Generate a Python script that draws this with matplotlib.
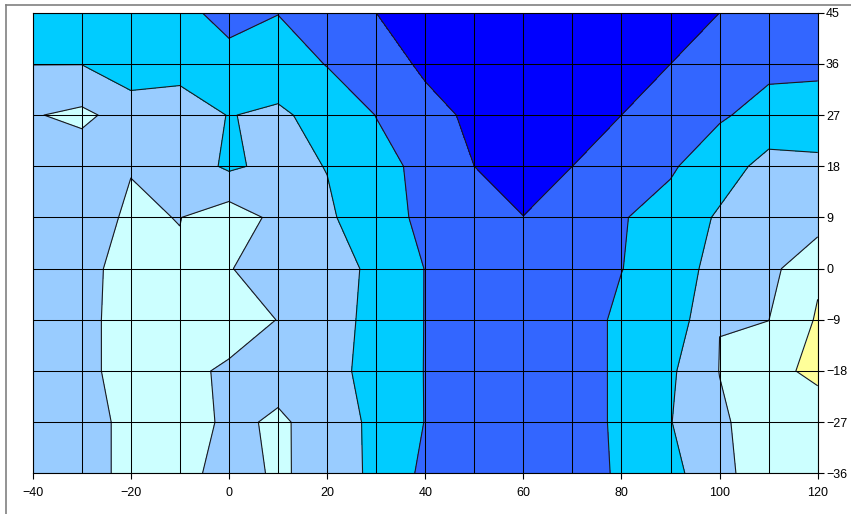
import numpy as np
import matplotlib
matplotlib.use('Agg')
import matplotlib.pyplot as plt
from matplotlib.lines import Line2D

# grid of the surface: columns = x, rows = y (top row first)
x_vals = [-40, -30, -20, -10, 0, 10, 20, 30, 40, 50, 60, 70, 80, 90, 100, 110, 120]
y_vals = [45, 36, 27, 18, 9, 0, -9, -18, -27, -36]

z_45 = [3.6, 3.6, 3.6, 3.75, 4.3, 4.03, 4.4, 5.0, 5.5, 5.6, 5.7, 5.6, 5.5, 5.3, 5.0, 4.6, 4.5]
z_36 = [3.02, 3.02, 3.65, 3.22, 3.7, 3.35, 4.05, 4.72, 5.1, 5.5, 5.7, 5.5, 5.3, 5.0, 4.5, 4.2, 4.2]
z_27 = [2.06, 1.8, 2.4, 2.7, 3.02, 2.9, 3.22, 4.02, 4.81, 5.11, 5.6, 5.3, 5.0, 4.5, 4.1, 3.7, 3.6]
z_18 = [2.5, 2.55, 2.03, 2.4, 3.17, 2.7, 3.03, 3.66, 4.27, 5.0, 5.3, 5.0, 4.5, 4.1, 3.5, 2.65, 2.78]
z_9 = [2.5, 2.3, 1.9, 2.02, 1.47, 2.25, 2.85, 3.6, 4.2, 4.5, 4.99, 4.5, 4.05, 3.7, 2.86, 2.6, 2.52]
z_0 = [2.5, 2.3, 1.62, 1.9, 1.95, 2.5, 2.5, 3.25, 4.02, 4.5, 4.5, 4.5, 4.02, 3.5, 2.64, 2.3, 1.15]
z_m9 = [2.5, 2.3, 1.55, 1.45, 1.35, 2.03, 2.5, 3.35, 4.02, 4.5, 4.5, 4.5, 3.8, 3.63, 2.01, 2.01, 0.9]
z_m18 = [2.5, 2.3, 1.55, 1.66, 2.2, 2.2, 2.5, 3.5, 4.02, 4.5, 4.5, 4.5, 3.8, 3.15, 1.98, 1.5, 0.6]
z_m27 = [2.5, 2.3, 1.8, 1.7, 2.12, 1.92, 2.22, 3.33, 4.02, 4.5, 4.5, 4.5, 3.8, 3.03, 2.15, 1.5, 1.98]
z_m36 = [2.5, 2.3, 1.8, 1.7, 2.35, 1.88, 2.32, 3.26, 4.2, 4.5, 4.5, 4.5, 3.85, 3.33, 2.2, 1.6, 1.6]

levels = [0, 1, 2, 3, 4, 5, 6]
band_colors = ['#FFFF99', '#CCFFFF', '#99CCFF', '#00CCFF', '#3366FF', '#0000FF']

x_ticks = [-40, -20, 0, 20, 40, 60, 80, 100, 120]
y_ticks = [-36, -27, -18, -9, 0, 9, 18, 27, 36, 45]

Z = np.array([z_45, z_36, z_27, z_18, z_9, z_0, z_m9, z_m18, z_m27, z_m36])
X, Y = np.meshgrid(x_vals, y_vals)

plt.rcParams['font.family'] = ['Liberation Sans', 'DejaVu Sans']

W, H = 851, 514
fig = plt.figure(figsize=(W / 100, H / 100), dpi=100)
left, right, top, bottom = 32.7, 817.7, 12.7, 473.3
ax = fig.add_axes([left / W, 1 - bottom / H, (right - left) / W, (bottom - top) / H])

ax.contourf(X, Y, Z, levels=levels, colors=band_colors, zorder=1)
ax.contour(X, Y, Z, levels=levels[1:-1], colors='#1a1a1a', linewidths=0.8, zorder=2)

ax.set_xlim(-40, 120)
ax.set_ylim(-36, 45)

ax.set_xticks(x_ticks)
ax.set_xticks(x_vals, minor=True)
ax.set_yticks(y_ticks)
ax.yaxis.tick_right()
ax.tick_params(axis='both', which='major', direction='out', length=4, width=0.8,
               labelsize=9, color='black', pad=6)
ax.tick_params(axis='y', pad=2)
ax.tick_params(axis='x', which='minor', length=0)

ax.grid(which='both', color='black', linewidth=0.75)
ax.set_axisbelow(False)
for side in ax.spines.values():
    side.set_color('black')
    side.set_linewidth(0.8)
    side.set_zorder(4)

# chart area frame (top and left edges)
fig.add_artist(Line2D([5.5 / W, 1], [1 - 4.7 / H, 1 - 4.7 / H], color='#808080', lw=1.2))
fig.add_artist(Line2D([5.5 / W, 5.5 / W], [0, 1 - 4.7 / H], color='#808080', lw=1.2))

fig.savefig('out.png', dpi=100)
